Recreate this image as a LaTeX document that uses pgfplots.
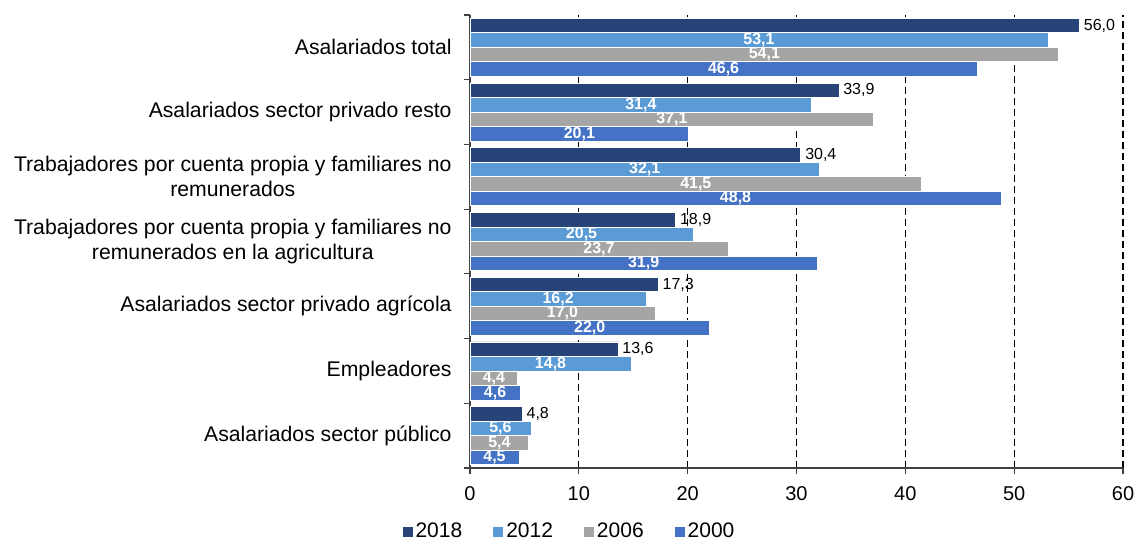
\documentclass[border=0pt]{standalone}
\usepackage{pgfplots}
\pgfplotsset{compat=1.18}
\usepackage{fontspec}
\setmainfont{Liberation Sans}

\definecolor{c2018}{RGB}{38,68,120}
\definecolor{c2012}{RGB}{91,155,213}
\definecolor{c2006}{RGB}{165,165,165}
\definecolor{c2000}{RGB}{68,114,196}

\pgfplotsset{
  inlabel/.style={
    nodes near coords={\textbf{\pgfmathprintnumber[fixed,fixed zerofill,precision=1,use comma,assume math mode=true]{\pgfplotspointmeta}}},
    visualization depends on={rawx \as \rawx},
    every node near coord/.append style={white, anchor=center, inner sep=0pt,
      font=\fontsize{8}{9}\selectfont, xshift={-2.72083pt*\rawx}}
  }
}

\begin{document}
\begin{tikzpicture}
\begin{axis}[
    name=ax,
    scale only axis,
    width=326.5pt, height=226.5pt,
    xbar, bar width=7.25pt,
    xmin=0, xmax=60, ymin=-0.5, ymax=6.5,
    xtick={0,10,...,60},
    ytick={0,...,6},
    yticklabels={
      Asalariados sector público,
      Empleadores,
      Asalariados sector privado agrícola,
      {Trabajadores por cuenta propia y familiares no\\remunerados en la agricultura},
      {Trabajadores por cuenta propia y familiares no\\remunerados},
      Asalariados sector privado resto,
      Asalariados total},
    minor ytick={-0.5,0.5,...,6.5},
    axis lines=left,
    axis line style={-, draw=black!75, line width=0.6pt},
    tick align=outside,
    major tick length=3pt,
    minor tick length=3pt,
    tick style={draw=black!75, line width=0.6pt},
    major y tick style={draw=none},
    xmajorgrids,
    grid style={black, line width=0.6pt, dash pattern=on 3.5pt off 2pt},
    /pgf/number format/assume math mode=true,
    xticklabel style={font=\fontsize{10}{12}\selectfont, yshift=-2.5pt},
    yticklabel style={font=\fontsize{10.6}{12.5}\selectfont, align=center, inner sep=0pt, xshift=-6pt},
    legend style={at={(0.1516,-0.1413)}, anchor=center, draw=none, fill=none,
      legend columns=4, font=\fontsize{10.5}{12}\selectfont,
      /tikz/every even column/.append style={column sep=14pt},
      nodes={inner sep=1pt}},
    legend image code/.code={\fill[#1] (0pt,-2.8pt) rectangle (5.6pt,2.8pt);},
]
\addplot[fill=c2018, draw=white, line width=0.4pt, bar shift=10.875pt,
    nodes near coords={\pgfmathprintnumber[fixed,fixed zerofill,precision=1,use comma,assume math mode=true]{\pgfplotspointmeta}},
    every node near coord/.append style={black, anchor=west, inner sep=2pt, font=\fontsize{8}{9}\selectfont}]
  coordinates {(56.0,6) (33.9,5) (30.4,4) (18.9,3) (17.3,2) (13.6,1) (4.8,0)};
\addlegendentry{2018}
\addplot[fill=c2012, draw=white, line width=0.4pt, bar shift=3.625pt, inlabel]
  coordinates {(53.1,6) (31.4,5) (32.1,4) (20.5,3) (16.2,2) (14.8,1) (5.6,0)};
\addlegendentry{2012}
\addplot[fill=c2006, draw=white, line width=0.4pt, bar shift=-3.625pt, inlabel]
  coordinates {(54.1,6) (37.1,5) (41.5,4) (23.7,3) (17.0,2) (4.4,1) (5.4,0)};
\addlegendentry{2006}
\addplot[fill=c2000, draw=white, line width=0.4pt, bar shift=-10.875pt, inlabel]
  coordinates {(46.6,6) (20.1,5) (48.8,4) (31.9,3) (22.0,2) (4.6,1) (4.5,0)};
\addlegendentry{2000}
\end{axis}
\pgfresetboundingbox
\path[use as bounding box] ([xshift=-235pt,yshift=-36pt]ax.south west) rectangle ([xshift=7pt,yshift=7.5pt]ax.north east);
\end{tikzpicture}
\end{document}
